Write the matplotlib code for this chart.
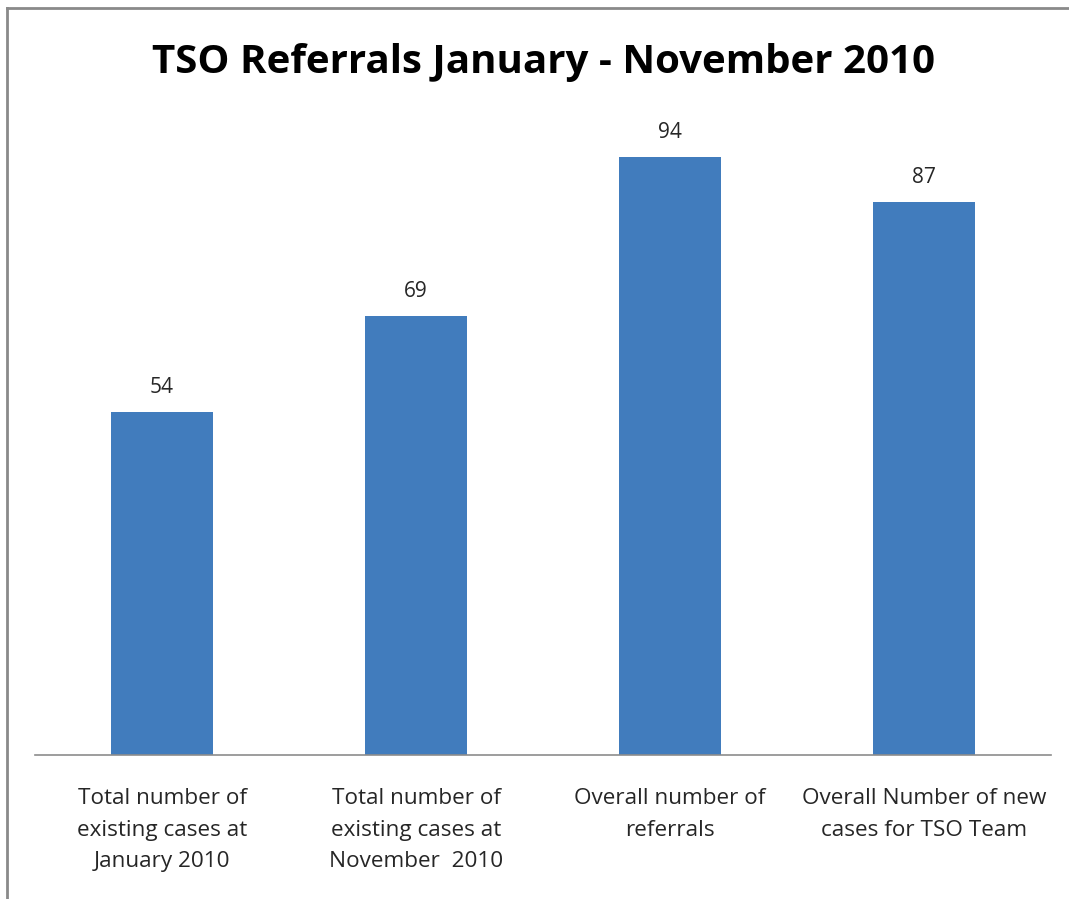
import numpy as np
import matplotlib.pyplot as plt
from matplotlib.lines import Line2D

categories = ['Total number of\nexisting cases at\nJanuary 2010',
              'Total number of\nexisting cases at\nNovember  2010',
              'Overall number of\nreferrals',
              'Overall Number of new\ncases for TSO Team']
values = [54, 69, 94, 87]

W, H = 1069, 899
fig = plt.figure(figsize=(W/100, H/100), dpi=100)
ax = fig.add_axes([35/W, (H-755)/H, 1016/W, 636/H])

x = np.arange(len(values))
bars = ax.bar(x, values, width=0.4, color='#417cbd', zorder=2)

ax.set_xlim(-0.5, 3.5)
ax.set_ylim(0, 100)
for s in ['top', 'right', 'left']:
    ax.spines[s].set_visible(False)
ax.spines['bottom'].set_color('#8c8c8c')
ax.spines['bottom'].set_linewidth(1.2)
ax.set_yticks([])
ax.set_xticks(x)
ax.set_xticklabels(categories, fontsize=16.2, color='#262626',
                   family='Open Sans', linespacing=1.66)
ax.tick_params(axis='x', length=0, pad=24)

for xi, v in zip(x, values):
    ax.annotate(str(v), (xi, v), xytext=(0, 10), textcoords='offset points',
                ha='center', va='bottom', fontsize=15, color='#262626',
                family='Open Sans')

fig.text(543/W, 1 - 62/H, 'TSO Referrals January - November 2010',
         ha='center', va='center', fontsize=29, fontweight='bold',
         family='Open Sans', color='black')

# chart frame (top and left edges only)
fig.add_artist(Line2D([6.5/W, 6.5/W], [0, 1 - 8/H], color='#8a8a8a', lw=2))
fig.add_artist(Line2D([6.5/W, 1], [1 - 8/H, 1 - 8/H], color='#8a8a8a', lw=2))

fig.savefig('out.png', dpi=100, facecolor='white')
